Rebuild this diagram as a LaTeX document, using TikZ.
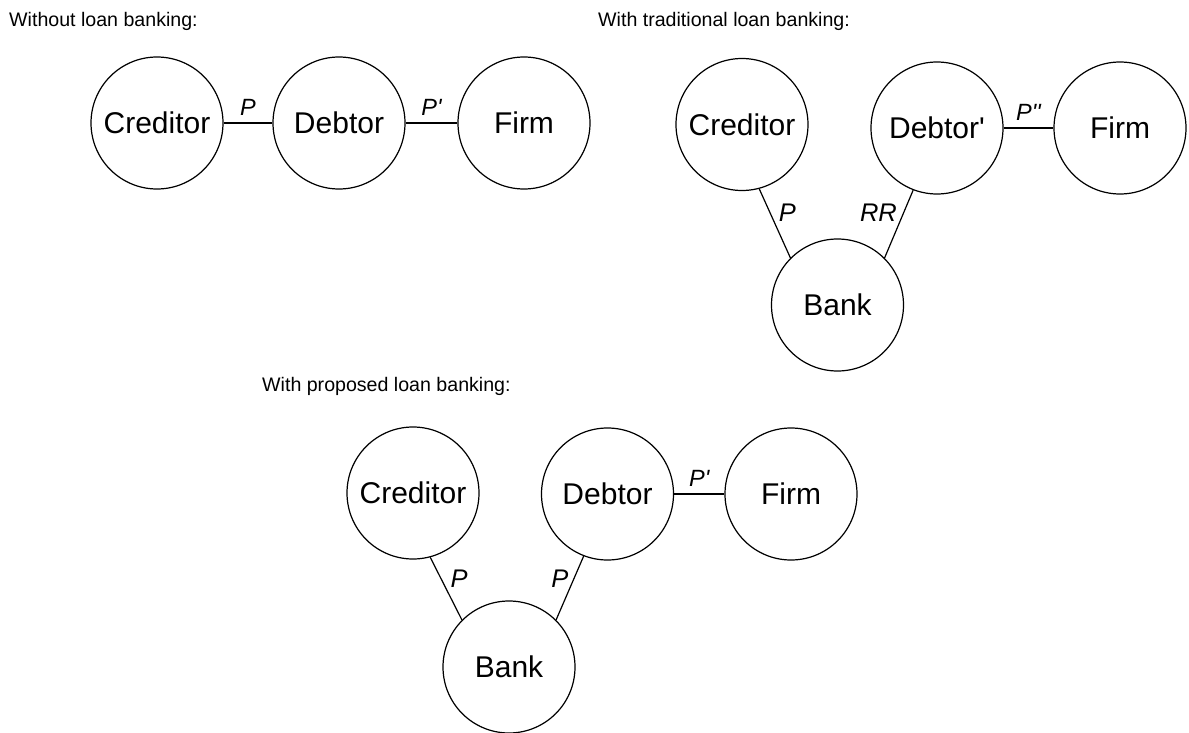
\documentclass[tikz,border=0pt]{standalone}
\usepackage{fontspec}
\setmainfont{Liberation Sans}[Ligatures=TeXOff]
\begin{document}
\begin{tikzpicture}[x=1pt,y=-1pt,
  party/.style={circle, draw, line width=1.2pt, minimum size=132pt, inner sep=0pt,
                font=\fontsize{30}{32}\selectfont},
  link/.style={line width=1.2pt},
  title/.style={anchor=base west, inner sep=0pt, font=\fontsize{19.6}{22}\selectfont},
  hlab/.style={above, inner sep=0pt, yshift=7pt, font=\fontsize{23.5}{25}\selectfont\itshape},
  dlab/.style={inner sep=0pt, font=\fontsize{25.5}{27}\selectfont\itshape}]
\useasboundingbox (0,0) rectangle (1189,733);

% headings
\node[title] (t1) at (9,26.7) {Without loan banking:};
\node[title] (t2) at (598,26.7) {With traditional loan banking:};
\node[title] (t3) at (262,391) {With proposed loan banking:};

% without loan banking
\node[party] (c1) at (157,123) {Creditor};
\node[party] (d1) at (339,123) {Debtor};
\node[party] (f1) at (524,123) {Firm};
\draw[link] (c1) -- node[hlab] {P} (d1);
\draw[link] (d1) -- node[hlab] {P'} (f1);

% traditional loan banking
\node[party] (c2) at (742,124.5) {Creditor};
\node[party] (d2) at (937,128) {Debtor'};
\node[party] (f2) at (1120,128) {Firm};
\node[party] (b2) at (837.5,305) {Bank};
\draw[link] (d2) -- node[hlab] {P''} (f2);
\draw[link] (c2.-75) -- node[dlab, pos=.35, anchor=west, xshift=8pt] {P} (b2.135);
\draw[link] (d2.-111) -- node[dlab, pos=.34, anchor=east, xshift=-6pt] {RR} (b2.45);

% proposed loan banking
\node[party] (c3) at (413,493) {Creditor};
\node[party] (d3) at (607.5,494) {Debtor};
\node[party] (f3) at (791,494) {Firm};
\node[party] (b3) at (509,667) {Bank};
\draw[link] (d3) -- node[hlab] {P'} (f3);
\draw[link] (c3.-75) -- node[dlab, pos=.34, anchor=west, xshift=9pt] {P} (b3.135);
\draw[link] (d3.-111) -- node[dlab, pos=.35, anchor=east, xshift=-5pt] {P} (b3.45);
\end{tikzpicture}
\end{document}
